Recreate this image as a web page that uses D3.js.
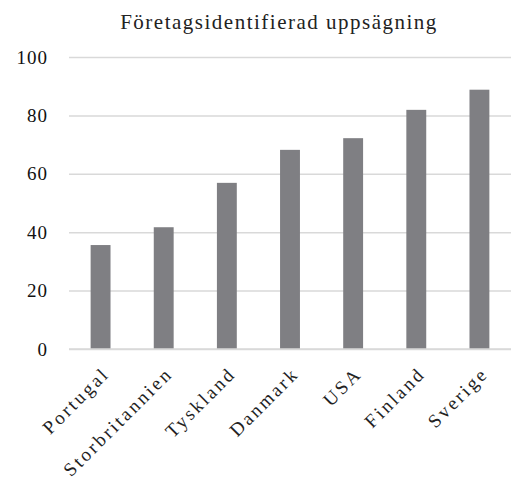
<!DOCTYPE html>
<html><head><meta charset="utf-8">
<script src="https://cdn.jsdelivr.net/npm/d3@7"></script>
<style>body{margin:0;background:#fff}</style>
</head><body>
<script>
const categories = ["Portugal","Storbritannien","Tyskland","Danmark","USA","Finland","Sverige"];
const values = [35.6, 41.7, 56.9, 68.2, 72.2, 81.9, 88.8];
const yTicks = [0,20,40,60,80,100];
const title = "Företagsidentifierad uppsägning";

const W=515,H=484;
const font="'Liberation Serif', 'DejaVu Serif', serif";
const svg=d3.select("body").append("svg").attr("width",W).attr("height",H);
const x=d3.scaleBand().domain(categories).range([69,511]).paddingInner(0.685).paddingOuter(0.3425);
const y=d3.scaleLinear().domain([0,100]).range([349,57]);

svg.append("text").attr("x",279).attr("y",29).attr("text-anchor","middle")
  .attr("font-family",font).attr("font-size",21).attr("letter-spacing",1.5)
  .attr("fill","#222").text(title);

const ya=svg.append("g").attr("transform","translate(69,0)")
  .call(d3.axisLeft(y).tickValues(yTicks).tickSize(-442).tickPadding(21));
ya.select(".domain").remove();
ya.selectAll(".tick line").attr("stroke","#d9d9d9").attr("stroke-width",1.5);
ya.selectAll(".tick text").attr("font-family",font).attr("font-size",19)
  .attr("letter-spacing",1).attr("fill","#111");

svg.selectAll("rect.bar").data(values).join("rect").attr("class","bar")
  .attr("x",(d,i)=>x(categories[i])).attr("width",x.bandwidth())
  .attr("y",d=>y(d)).attr("height",d=>y(0)-y(d)).attr("fill","#7f7f83");

const xa=svg.append("g").attr("transform","translate(0,349)")
  .call(d3.axisBottom(x).tickSize(0).tickPadding(0));
xa.select(".domain").attr("stroke","#d9d9d9").attr("stroke-width",1.5).attr("d","M69,0H511");
xa.selectAll(".tick text").attr("font-family",font).attr("font-size",19)
  .attr("letter-spacing",2.6).attr("fill","#222")
  .attr("text-anchor","end").attr("dy",0)
  .attr("transform","translate(10,26) rotate(-45)");
</script>
</body></html>
